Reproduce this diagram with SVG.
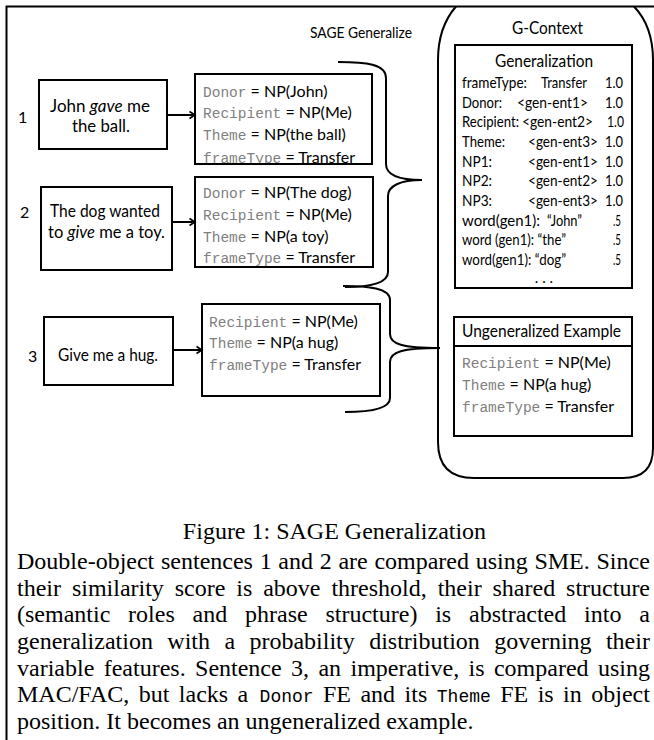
<svg xmlns="http://www.w3.org/2000/svg" width="654" height="740" viewBox="0 0 654 740">
<style>
.box{fill:#fff;stroke:#000;stroke-width:2}
.line{fill:none;stroke:#000;stroke-width:2}
.sans{font-family:Lato,"Open Sans",sans-serif;fill:#000}
.mono{font-family:"Liberation Mono",monospace;fill:#808080;font-size:14.5px}
.eq{font-family:Lato,"Open Sans",sans-serif;fill:#000;font-size:16px}
.row{font-family:Lato,"Open Sans",sans-serif;fill:#000;font-size:15px}
.sent{font-family:Lato,"Open Sans",sans-serif;fill:#000;font-size:16.5px}
.serif{font-family:"Liberation Serif","Times New Roman",serif;fill:#000;font-size:24px}
.cmono{font-family:"Liberation Mono",monospace;fill:#000;font-size:18px}
</style>
<defs>
<marker id="arr" markerUnits="userSpaceOnUse" markerWidth="10" markerHeight="10" refX="7" refY="5" orient="auto">
<path d="M1.5 1.5 L7 5 L1.5 8.5" fill="none" stroke="#000" stroke-width="1.6"/>
</marker>
<clipPath id="c1"><rect x="196" y="75" width="175" height="88"/></clipPath>
<clipPath id="c2"><rect x="196" y="178" width="176" height="88"/></clipPath>
</defs>

<path class="line" d="M6.5 740 V6.5 H654" stroke-width="2.5"/>

<text class="sans" x="310" y="38" font-size="15.5" textLength="102" lengthAdjust="spacingAndGlyphs">SAGE Generalize</text>

<g id="s1">
<text class="sans" x="18" y="123" font-size="16">1</text>
<rect class="box" x="39" y="80" width="128" height="69"/>
<text class="sent" x="50" y="112" textLength="100" lengthAdjust="spacingAndGlyphs">John <tspan font-style="italic">gave</tspan> me</text>
<text class="sent" x="72" y="132" textLength="58" lengthAdjust="spacingAndGlyphs">the ball.</text>
</g>

<g id="s2">
<text class="sans" x="20" y="218" font-size="16">2</text>
<rect class="box" x="41" y="187" width="131" height="83"/>
<text class="sent" x="50" y="217" textLength="110" lengthAdjust="spacingAndGlyphs">The dog wanted</text>
<text class="sent" x="48" y="238" textLength="117" lengthAdjust="spacingAndGlyphs">to <tspan font-style="italic">give</tspan> me a toy.</text>
</g>

<g id="s3">
<text class="sans" x="28" y="362" font-size="16">3</text>
<rect class="box" x="44" y="317" width="129" height="68"/>
<text class="sent" x="58" y="361" textLength="100" lengthAdjust="spacingAndGlyphs">Give me a hug.</text>
</g>

<g id="f1">
<rect class="box" x="195" y="74" width="177" height="90"/>
<g clip-path="url(#c1)">
<text x="203" y="97"><tspan class="mono">Donor</tspan><tspan class="eq"> = NP(John)</tspan></text>
<text x="203" y="118"><tspan class="mono">Recipient</tspan><tspan class="eq"> = NP(Me)</tspan></text>
<text x="203" y="140"><tspan class="mono">Theme</tspan><tspan class="eq"> = NP(the ball)</tspan></text>
<text x="203" y="163"><tspan class="mono">frameType</tspan><tspan class="eq"> = Transfer</tspan></text>
</g>
<rect x="195" y="74" width="177" height="90" fill="none" stroke="#000" stroke-width="2"/>
</g>

<g id="f2">
<rect class="box" x="195" y="177" width="178" height="90"/>
<g clip-path="url(#c2)">
<text x="203" y="198"><tspan class="mono">Donor</tspan><tspan class="eq"> = NP(The dog)</tspan></text>
<text x="203" y="220"><tspan class="mono">Recipient</tspan><tspan class="eq"> = NP(Me)</tspan></text>
<text x="203" y="242"><tspan class="mono">Theme</tspan><tspan class="eq"> = NP(a toy)</tspan></text>
<text x="203" y="263"><tspan class="mono">frameType</tspan><tspan class="eq"> = Transfer</tspan></text>
</g>
<rect x="195" y="177" width="178" height="90" fill="none" stroke="#000" stroke-width="2"/>
</g>

<g id="f3">
<rect class="box" x="202" y="304" width="178" height="92"/>
<text x="209" y="327"><tspan class="mono">Recipient</tspan><tspan class="eq"> = NP(Me)</tspan></text>
<text x="209" y="348"><tspan class="mono">Theme</tspan><tspan class="eq"> = NP(a hug)</tspan></text>
<text x="209" y="370"><tspan class="mono">frameType</tspan><tspan class="eq"> = Transfer</tspan></text>
</g>

<g id="gcontext">
<path class="line" d="M456 6.5 C446 18 438 36 438 60 L438 442 Q438 478 474 478 L623 478 Q653 478 653 448 L653 60 C653 36 645 18 634 6.5"/>
<text class="sans" x="512" y="34" font-size="17" textLength="71" lengthAdjust="spacingAndGlyphs">G-Context</text>
</g>

<g id="generalization">
<rect class="box" x="455" y="45" width="177" height="243"/>
<text class="sans" x="495" y="67" font-size="17" textLength="98" lengthAdjust="spacingAndGlyphs">Generalization</text>
<text class="row" x="462" y="88" textLength="65" lengthAdjust="spacingAndGlyphs">frameType:</text>
<text class="row" x="541" y="88" textLength="46" lengthAdjust="spacingAndGlyphs">Transfer</text>
<text class="row" x="605" y="88" textLength="18" lengthAdjust="spacingAndGlyphs">1.0</text>
<text class="row" x="462" y="108" textLength="40" lengthAdjust="spacingAndGlyphs">Donor:</text>
<text class="row" x="517" y="108" textLength="71" lengthAdjust="spacingAndGlyphs">&lt;gen-ent1&gt;</text>
<text class="row" x="605" y="108" textLength="18" lengthAdjust="spacingAndGlyphs">1.0</text>
<text class="row" x="462" y="127" textLength="57" lengthAdjust="spacingAndGlyphs">Recipient:</text>
<text class="row" x="522" y="127" textLength="71" lengthAdjust="spacingAndGlyphs">&lt;gen-ent2&gt;</text>
<text class="row" x="607" y="127" textLength="17" lengthAdjust="spacingAndGlyphs">1.0</text>
<text class="row" x="462" y="147" textLength="43" lengthAdjust="spacingAndGlyphs">Theme:</text>
<text class="row" x="528" y="147" textLength="70" lengthAdjust="spacingAndGlyphs">&lt;gen-ent3&gt;</text>
<text class="row" x="605" y="147" textLength="18" lengthAdjust="spacingAndGlyphs">1.0</text>
<text class="row" x="462" y="167" textLength="30" lengthAdjust="spacingAndGlyphs">NP1:</text>
<text class="row" x="528" y="167" textLength="70" lengthAdjust="spacingAndGlyphs">&lt;gen-ent1&gt;</text>
<text class="row" x="605" y="167" textLength="18" lengthAdjust="spacingAndGlyphs">1.0</text>
<text class="row" x="462" y="186" textLength="30" lengthAdjust="spacingAndGlyphs">NP2:</text>
<text class="row" x="528" y="186" textLength="70" lengthAdjust="spacingAndGlyphs">&lt;gen-ent2&gt;</text>
<text class="row" x="605" y="186" textLength="18" lengthAdjust="spacingAndGlyphs">1.0</text>
<text class="row" x="462" y="206" textLength="30" lengthAdjust="spacingAndGlyphs">NP3:</text>
<text class="row" x="528" y="206" textLength="70" lengthAdjust="spacingAndGlyphs">&lt;gen-ent3&gt;</text>
<text class="row" x="605" y="206" textLength="18" lengthAdjust="spacingAndGlyphs">1.0</text>
<text class="row" x="462" y="226" textLength="78" lengthAdjust="spacingAndGlyphs">word(gen1):</text>
<text class="row" x="547" y="226" textLength="35" lengthAdjust="spacingAndGlyphs">“John”</text>
<text class="row" x="613" y="226" textLength="8" lengthAdjust="spacingAndGlyphs">.5</text>
<text class="row" x="462" y="245" textLength="104" lengthAdjust="spacingAndGlyphs">word (gen1): “the”</text>
<text class="row" x="613" y="245" textLength="8" lengthAdjust="spacingAndGlyphs">.5</text>
<text class="row" x="462" y="265" textLength="104" lengthAdjust="spacingAndGlyphs">word(gen1): “dog”</text>
<text class="row" x="613" y="265" textLength="8" lengthAdjust="spacingAndGlyphs">.5</text>
<text class="row" x="544" y="283" text-anchor="middle" font-size="11">. . .</text>
</g>

<g id="ungeneralized">
<rect class="box" x="454" y="317" width="178" height="119"/>
<line class="line" x1="454" y1="346" x2="632" y2="346"/>
<text class="sans" x="462" y="337" font-size="17" textLength="159" lengthAdjust="spacingAndGlyphs">Ungeneralized Example</text>
<text x="462" y="368"><tspan class="mono">Recipient</tspan><tspan class="eq"> = NP(Me)</tspan></text>
<text x="462" y="390"><tspan class="mono">Theme</tspan><tspan class="eq"> = NP(a hug)</tspan></text>
<text x="462" y="412"><tspan class="mono">frameType</tspan><tspan class="eq"> = Transfer</tspan></text>
</g>

<g id="connectors">
<path class="line" d="M167 115 H195" marker-end="url(#arr)"/>
<path class="line" d="M172 222 H195" marker-end="url(#arr)"/>
<path class="line" d="M173 350 H202" marker-end="url(#arr)"/>
<path class="line" d="M338 62 C366 62 386 64 386 78 L386 164 C386 174 398 180 422 180 M422 180 C400 180 388 186 388 196 L388 272 C388 283 372 287 345 287"/>
<path class="line" d="M343 286 C368 286 390 288 390 300 L390 334 C390 344 402 348 440 348 M440 348 C402 348 390 352 390 362 L390 398 C390 408 372 412 345 412"/>
</g>

<g id="caption">
<text class="serif" x="334.5" y="539" font-size="26.5" text-anchor="middle">Figure 1: SAGE Generalization</text>
<text class="serif" x="17" y="569" word-spacing="0.7">Double-object sentences 1 and 2 are compared using SME. Since</text>
<text class="serif" x="17" y="596" word-spacing="4.9">their similarity score is above threshold, their shared structure</text>
<text class="serif" x="17" y="622" word-spacing="11.8">(semantic roles and phrase structure) is abstracted into a</text>
<text class="serif" x="17" y="649" word-spacing="8.4">generalization with a probability distribution governing their</text>
<text class="serif" x="17" y="676" word-spacing="3.4">variable features. Sentence 3, an imperative, is compared using</text>
<text class="serif" x="17" y="702" word-spacing="3.46">MAC/FAC, but lacks a</text>
<text class="cmono" x="259.6" y="702">Donor</text>
<text class="serif" x="323" y="702" word-spacing="3.46">FE and its</text>
<text class="cmono" x="436.8" y="702">Theme</text>
<text class="serif" x="500.2" y="702" word-spacing="3.46">FE is in object</text>
<text class="serif" x="17" y="729">position. It becomes an ungeneralized example.</text>
</g>
</svg>
